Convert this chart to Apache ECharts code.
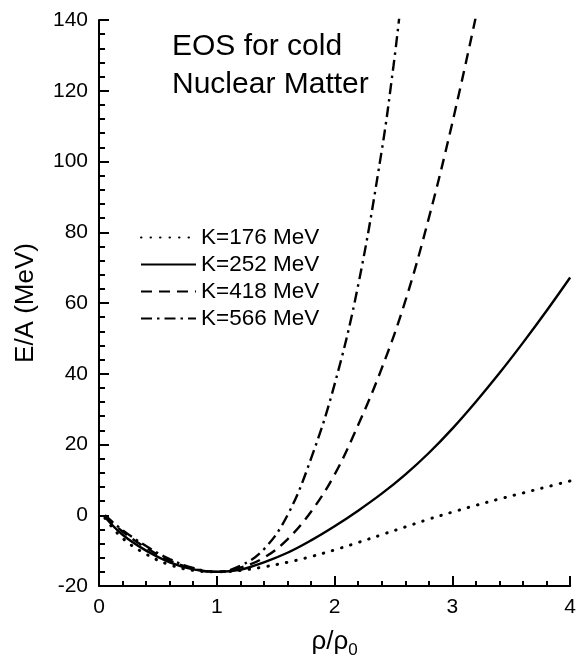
<!DOCTYPE html>
<html>
<head>
<meta charset="utf-8">
<script src="https://cdn.jsdelivr.net/npm/echarts@6/dist/echarts.min.js"></script>
<style>
html,body{margin:0;padding:0;background:#fff;}
#chart{width:579px;height:665px;}
</style>
</head>
<body>
<div id="chart"></div>
<script>
// Data
const seriesNames = ['K=176 MeV', 'K=252 MeV', 'K=418 MeV', 'K=566 MeV'];

const rhoK176 = [0.05,0.2,0.4,0.6,0.8,1.0,1.2,1.4,1.6,1.8,2.0,2.2,2.4,2.6,2.8,3.0,3.2,3.4,3.6,3.8,4.0];
const eK176   = [-0.8,-6.5,-11,-14,-15.6,-16,-15.6,-14.6,-13.3,-11.7,-9.8,-7.7,-5.5,-3.3,-1.1,0.9,2.8,4.6,6.3,8.0,9.7];

const rhoK252 = [0.05,0.2,0.4,0.6,0.8,1.0,1.2,1.4,1.6,1.8,2.0,2.2,2.4,2.6,2.8,3.0,3.2,3.4,3.6,3.8,4.0];
const eK252   = [-0.5,-5.5,-10,-13.3,-15.3,-16,-15.4,-13.3,-10.6,-7.1,-3.1,1.3,6.1,11.5,17.6,24.5,32.1,40.2,48.8,57.8,67.2];

const rhoK418 = [0.05,0.2,0.4,0.6,0.8,1.0,1.2,1.4,1.6,1.8,2.0,2.2,2.4,2.6,2.8,3.0,3.2];
const eK418   = [-0.2,-4.6,-9.2,-12.8,-15.1,-16,-14.8,-12.0,-6.8,1.0,11.5,25.5,41.5,60.5,84,111,141];

const rhoK566 = [0.05,0.2,0.4,0.6,0.8,1.0,1.2,1.4,1.6,1.8,2.0,2.2,2.4,2.5,2.55];
const eK566   = [0,-4.2,-8.7,-12.4,-14.9,-16,-14.3,-9.6,0,16,37,65,103,127,141];

const xTicks = [0, 1, 2, 3, 4];
const yTicks = [-20, 0, 20, 40, 60, 80, 100, 120, 140];

const pair = (xs, ys) => xs.map((x, i) => [x, ys[i]]);
const dashes = [[0.5, 9], 'solid', [11, 7], [11, 5, 2.5, 5]];
const caps = ['round', 'butt', 'butt', 'butt'];
const widths = [3, 2.4, 2.4, 2.4];
const datasets = [pair(rhoK176, eK176), pair(rhoK252, eK252), pair(rhoK418, eK418), pair(rhoK566, eK566)];

const FONT = '"Liberation Sans", Arial, Helvetica, sans-serif';
const chart = echarts.init(document.getElementById('chart'), null, {renderer: 'canvas'});

chart.setOption({
  animation: false,
  backgroundColor: '#fff',
  textStyle: {fontFamily: FONT, color: '#000'},
  title: {
    text: 'EOS for cold\nNuclear Matter',
    left: 167, top: 23,
    textStyle: {fontFamily: FONT, fontSize: 30, fontWeight: 'normal', color: '#000', lineHeight: 38}
  },
  legend: {
    orient: 'vertical',
    left: 140, top: 226, padding: 0,
    itemWidth: 55, itemHeight: 14, itemGap: 4,
    data: seriesNames,
    itemStyle: {color: 'rgba(0,0,0,0)', borderWidth: 0, opacity: 0},
    textStyle: {fontFamily: FONT, fontSize: 22.5, lineHeight: 23, color: '#000'}
  },
  grid: {left: 99, right: 4, top: 20, bottom: 79, containLabel: false},
  xAxis: {
    type: 'value', min: xTicks[0], max: xTicks[xTicks.length-1], interval: 1,
    name: '{a|ρ/ρ}{s|0}', nameLocation: 'middle', nameGap: 38,
    nameTextStyle: {rich: {a: {fontFamily: FONT, fontSize: 26, color:'#000'}, s: {fontFamily: FONT, fontSize: 17, color:'#000', verticalAlign: 'bottom', padding: [18,0,0,0]}}},
    axisLine: {show: true, onZero: false, lineStyle: {color: '#000', width: 2}},
    axisTick: {show: true, inside: true, length: 10, lineStyle: {color: '#000', width: 2}},
    minorTick: {show: true, splitNumber: 5, length: 5, lineStyle: {color: '#000', width: 2}},
    axisLabel: {fontFamily: FONT, fontSize: 21, color: '#000', margin: 11},
    splitLine: {show: false}
  },
  yAxis: {
    type: 'value', min: yTicks[0], max: yTicks[yTicks.length-1], interval: 20,
    name: 'E/A (MeV)', nameLocation: 'middle', nameGap: 60, nameRotate: 90,
    nameTextStyle: {fontFamily: FONT, fontSize: 26, color: '#000'},
    axisLine: {show: true, onZero: false, lineStyle: {color: '#000', width: 2}},
    axisTick: {show: true, inside: true, length: 10, lineStyle: {color: '#000', width: 2}},
    minorTick: {show: true, splitNumber: 5, length: 6, lineStyle: {color: '#000', width: 2}},
    axisLabel: {fontFamily: FONT, fontSize: 21, color: '#000', margin: 11},
    splitLine: {show: false}
  },
  series: seriesNames.map((n, i) => ({
    name: n,
    type: 'line',
    data: datasets[i],
    smooth: 0.4,
    showSymbol: false,
    symbol: 'none',
    clip: true,
    lineStyle: {color: '#000', width: widths[i], type: dashes[i], cap: caps[i]},
    itemStyle: {color: '#000'}
  }))
});
</script>
</body>
</html>
